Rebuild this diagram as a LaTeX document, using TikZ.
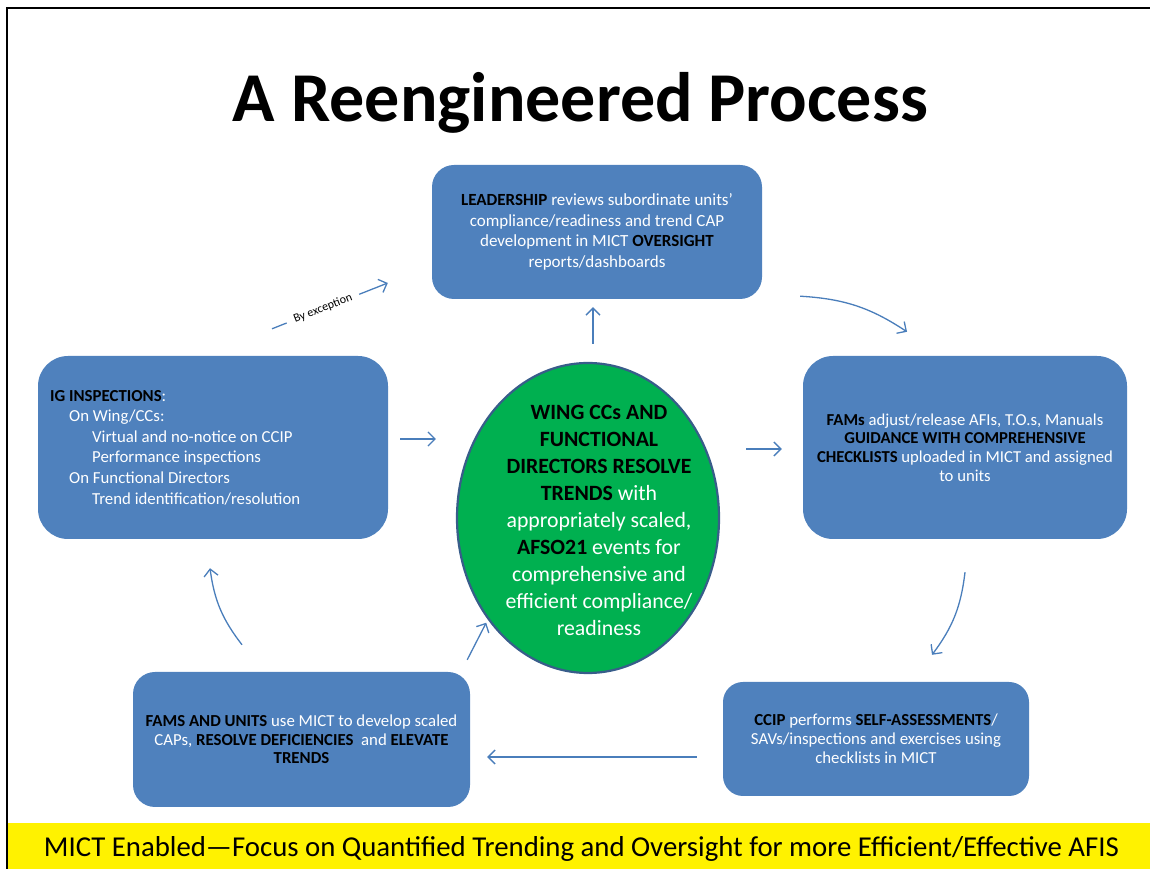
\documentclass[tikz,border=0pt]{standalone}
\usepackage{fontspec}
\setmainfont{Carlito}
\usepackage[usenames]{xcolor}
\usepackage{tikz}
\usetikzlibrary{arrows.meta,shapes.geometric}

\definecolor{boxblue}{HTML}{4F81BD}
\definecolor{arrowblue}{HTML}{4A7EBB}
\definecolor{ringblue}{HTML}{385D8A}
\definecolor{wingreen}{HTML}{00B050}

\newcommand{\kw}[1]{\textcolor{black}{\textbf{#1}}}

\begin{document}
\begin{tikzpicture}[x=1pt,y=1pt,
    stepbox/.style={fill=boxblue,rounded corners=24pt,text=white,inner sep=0pt},
    flow/.style={arrowblue,line width=1.3pt,->}]
\begin{scope}[>={Straight Barb[length=7pt,width=14pt]}]

    \useasboundingbox (0,0) rectangle (1150,869);

    % frame and footer band
    \fill[yellow] (8,0) rectangle (1150,46);
    \draw[black,line width=1.8pt] (7,0) -- (7,861) -- (1150,861);
    \node (footer) at (581.5,20) {\fontsize{28.8}{32}\selectfont MICT Enabled---Focus on Quantified Trending and Oversight for more Efficient/Effective AFIS};

    \node (title) at (580.5,766) {\fontsize{70}{80}\selectfont\bfseries A Reengineered Process};

    % boxes
    \node[stepbox,minimum width=330pt,minimum height=134pt,rounded corners=22pt,align=center,
          font=\fontsize{17}{20.7}\selectfont] (lead) at (597,637)
        {\kw{LEADERSHIP} reviews subordinate units'\\compliance/readiness and trend CAP\\development in MICT \kw{OVERSIGHT}\\reports/dashboards};

    \node[stepbox,minimum width=350pt,minimum height=183pt,rounded corners=30pt] (ig) at (213,421.5) {};
    \node[anchor=west,text=white,align=left,inner sep=0pt,
          font=\fontsize{16.8}{20.6}\selectfont] (igtext) at (50,421.5)
        {\kw{IG INSPECTIONS}:\\
         \hspace*{19pt}On Wing/CCs:\\
         \hspace*{42pt}Virtual and no-notice on CCIP\\
         \hspace*{42pt}Performance inspections\\
         \hspace*{19pt}On Functional Directors\\
         \hspace*{42pt}Trend identification/resolution};

    \node[stepbox,minimum width=324pt,minimum height=183pt,rounded corners=30pt,align=center,
          font=\fontsize{16.7}{18.8}\selectfont] (fams) at (965,421.5)
        {\kw{FAMs} adjust/release AFIs, T.O.s, Manuals\\\kw{GUIDANCE WITH COMPREHENSIVE}\\\kw{CHECKLISTS} uploaded in MICT and assigned\\to units};

    \node[stepbox,minimum width=306pt,minimum height=114pt,rounded corners=20pt,align=center,
          font=\fontsize{16.8}{19}\selectfont] (ccip) at (876,130)
        {\kw{CCIP} performs \kw{SELF-ASSESSMENTS}/\\SAVs/inspections and exercises using\\checklists in MICT};

    \node[stepbox,minimum width=337pt,minimum height=135pt,rounded corners=22pt,align=center,
          font=\fontsize{16.8}{18.5}\selectfont] (units) at (301.5,129.5)
        {\kw{FAMS AND UNITS} use MICT to develop scaled\\CAPs, \kw{RESOLVE DEFICIENCIES}\ \ and \kw{ELEVATE}\\\kw{TRENDS}};

    % centre
    \node[ellipse,fill=wingreen,draw=ringblue,line width=2.2pt,minimum width=262pt,minimum height=310pt] (wing) at (588,351) {};
    \node[text=white,align=center,inner sep=0pt,font=\fontsize{21.8}{27}\selectfont] (wingtext) at (599,349)
        {\kw{WING CCs AND}\\\kw{FUNCTIONAL}\\\kw{DIRECTORS RESOLVE}\\\kw{TRENDS} with\\appropriately scaled,\\\kw{AFSO21} events for\\comprehensive and\\efficient compliance/\\readiness};

    % cycle
    \draw[flow] ([xshift=38pt,yshift=3pt]lead.south east) to[bend left=15] ([xshift=-58pt,yshift=24pt]fams.north);
    \draw[flow] ([yshift=-33pt]fams.south) to[bend left=15] ([xshift=56pt,yshift=27pt]ccip.north);
    \draw[flow] ([xshift=-26pt,yshift=-18pt]ccip.west) -- ([xshift=17pt,yshift=-17.5pt]units.east);
    \draw[flow] ([xshift=-3pt,yshift=12pt]units.north east) -- ([xshift=-8.4pt,yshift=5.6pt]wing.south west);
    \draw[flow] ([xshift=-59.5pt,yshift=27pt]units.north) to[bend left=15] ([xshift=-3pt,yshift=-29pt]ig.south);
    \draw[flow] ([xshift=12pt,yshift=8.5pt]ig.east) -- ([xshift=-20pt,yshift=79pt]wing.west);
    \draw[flow] ([xshift=26pt,yshift=69pt]wing.east) -- ([xshift=-21pt,yshift=-1.5pt]fams.west);
    \draw[flow] ([xshift=5pt,yshift=18pt]wing.north) -- ([xshift=-4pt,yshift=-8pt]lead.south);
    \draw[flow] ([xshift=59pt,yshift=27pt]ig.north) -- node[pos=0.44,sloped,fill=white,text=black,inner xsep=8pt,inner ysep=1pt,
          font=\fontsize{12}{13}\selectfont] (except) {By exception} ([xshift=-44pt,yshift=-51pt]lead.west);

\end{scope}
\end{tikzpicture}
\end{document}
